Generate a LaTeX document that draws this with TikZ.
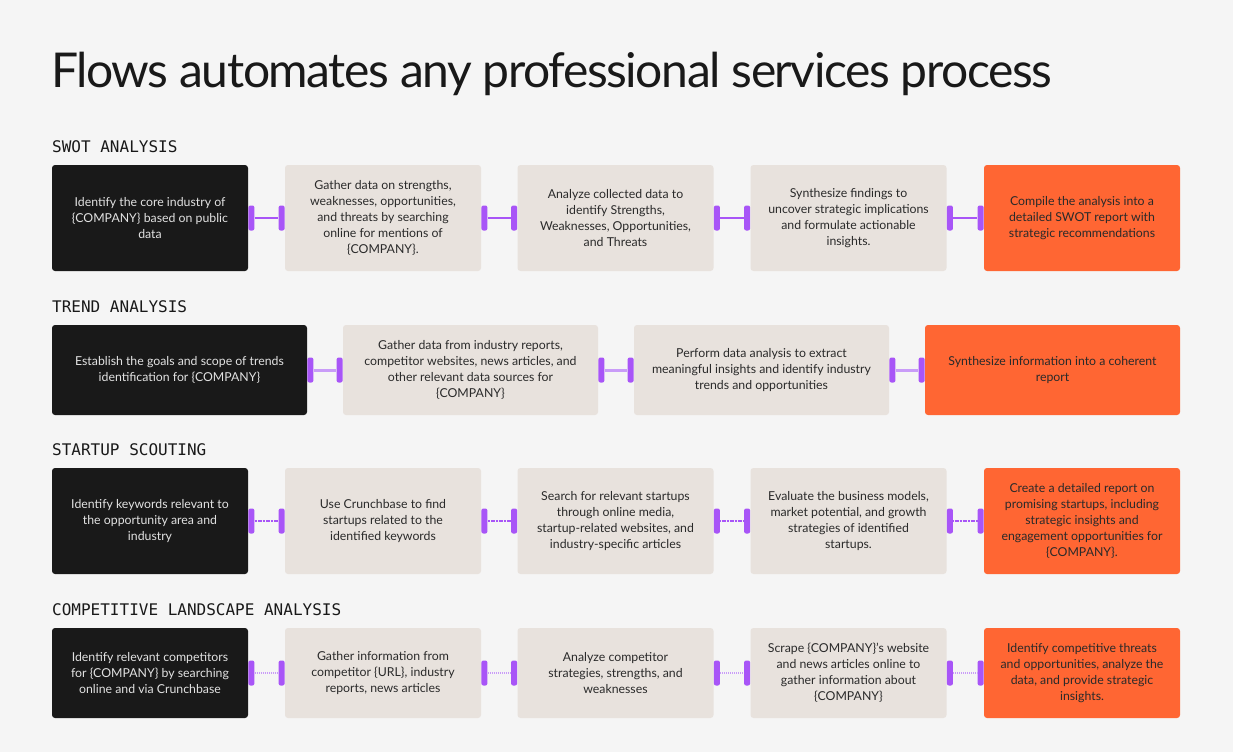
\documentclass[tikz,border=0pt]{standalone}
\usepackage{fontspec}
\setmainfont{Lato}
\newfontfamily\monof{DejaVu Sans Mono}
\newfontfamily\titlef[LetterSpace=-3]{Lato}
\definecolor{bg}{HTML}{F5F5F5}
\definecolor{beige}{HTML}{E8E2DD}
\definecolor{blk}{HTML}{191919}
\definecolor{orng}{HTML}{FF6633}
\definecolor{purp}{HTML}{A855F7}
\definecolor{purpl}{HTML}{C99CF8}
\definecolor{txt}{HTML}{2A2A2A}
\definecolor{ltxt}{HTML}{E2E2E2}
\tikzset{
  box/.style={rounded corners=3pt, inner sep=0pt, align=center, font=\fontsize{12.3}{16}\selectfont},
  boxa/.style={box, minimum width=196pt, minimum height=106pt},
  boxb/.style={box, minimum width=255pt, minimum height=90pt},
  boxc/.style={box, minimum width=196pt, minimum height=90pt},
  darkbox/.style={fill=blk, text=ltxt},
  lightbox/.style={fill=beige, text=txt},
  hotbox/.style={fill=orng, text=txt},
  tab/.style={fill=purp, rounded corners=2pt, minimum width=6pt, minimum height=25pt, inner sep=0pt},
  lnA/.style={draw=purp, line width=1.3pt},
  lnB/.style={draw=purpl, line width=3pt},
  lnC/.style={draw=purp, line width=1.1pt, dash pattern=on 1.2pt off 0.4pt},
  lnD/.style={draw=purpl, line width=1.3pt, dash pattern=on 1pt off 1pt},
  sect/.style={anchor=west, inner sep=0pt, font=\monof\fontsize{16}{16}\selectfont, text=blk},
}
\newcommand\conn[3]{%
  \node[tab,anchor=west] (#1r) at (#1.east) {};
  \node[tab,anchor=east] (#2l) at (#2.west) {};
  \draw[#3] (#1r) -- (#2l);}
\begin{document}
\begin{tikzpicture}[x=1pt,y=-1pt]
\fill[bg] (0,0) rectangle (1233,752);
\useasboundingbox (0,0) rectangle (1233,752);
\node[anchor=base west, inner sep=0pt, text=blk, font=\titlef\fontsize{48}{50}\selectfont] (title) at (51,87) {Flows automates any professional services process};

% SWOT
\node[sect] (h1) at (52,147) {SWOT ANALYSIS};
\node[boxa,darkbox] (a1) at (150,218) {Identify the core industry of\\\{COMPANY\} based on public\\data};
\node[boxa,lightbox] (a2) at (383,218) {Gather data on strengths,\\weaknesses, opportunities,\\and threats by searching\\online for mentions of\\\{COMPANY\}.};
\node[boxa,lightbox] (a3) at (615.5,218) {Analyze collected data to\\identify Strengths,\\Weaknesses, Opportunities,\\and Threats};
\node[boxa,lightbox] (a4) at (848.5,218) {Synthesize findings to\\uncover strategic implications\\and formulate actionable\\insights.};
\node[boxa,hotbox] (a5) at (1082,218) {Compile the analysis into a\\detailed SWOT report with\\strategic recommendations};
\conn{a1}{a2}{lnA}
\conn{a2}{a3}{lnA}
\conn{a3}{a4}{lnA}
\conn{a4}{a5}{lnA}

% TREND
\node[sect] (h2) at (52,307) {TREND ANALYSIS};
\node[boxb,darkbox] (b1) at (179.5,370) {Establish the goals and scope of trends\\identification for \{COMPANY\}};
\node[boxb,lightbox] (b2) at (470.5,370) {Gather data from industry reports,\\competitor websites, news articles, and\\other relevant data sources for\\\{COMPANY\}};
\node[boxb,lightbox] (b3) at (761.5,370) {Perform data analysis to extract\\meaningful insights and identify industry\\trends and opportunities};
\node[boxb,hotbox] (b4) at (1052.5,370) {Synthesize information into a coherent\\report};
\conn{b1}{b2}{lnB}
\conn{b2}{b3}{lnB}
\conn{b3}{b4}{lnB}

% STARTUP
\node[sect] (h3) at (52,450) {STARTUP SCOUTING};
\node[boxa,darkbox] (c1) at (150,521) {Identify keywords relevant to\\the opportunity area and\\industry};
\node[boxa,lightbox] (c2) at (383,521) {Use Crunchbase to find\\startups related to the\\identified keywords};
\node[boxa,lightbox] (c3) at (615.5,521) {Search for relevant startups\\through online media,\\startup-related websites, and\\industry-specific articles};
\node[boxa,lightbox] (c4) at (848.5,521) {Evaluate the business models,\\market potential, and growth\\strategies of identified\\startups.};
\node[boxa,hotbox] (c5) at (1082,521) {Create a detailed report on\\promising startups, including\\strategic insights and\\engagement opportunities for\\\{COMPANY\}.};
\conn{c1}{c2}{lnC}
\conn{c2}{c3}{lnC}
\conn{c3}{c4}{lnC}
\conn{c4}{c5}{lnC}

% COMPETITIVE
\node[sect] (h4) at (52,610) {COMPETITIVE LANDSCAPE ANALYSIS};
\node[boxc,darkbox] (d1) at (150,673) {Identify relevant competitors\\for \{COMPANY\} by searching\\online and via Crunchbase};
\node[boxc,lightbox] (d2) at (383,673) {Gather information from\\competitor \{URL\}, industry\\reports, news articles};
\node[boxc,lightbox] (d3) at (615.5,673) {Analyze competitor\\strategies, strengths, and\\weaknesses};
\node[boxc,lightbox] (d4) at (848.5,673) {Scrape \{COMPANY\}’s website\\and news articles online to\\gather information about\\\{COMPANY\}};
\node[boxc,hotbox] (d5) at (1082,673) {Identify competitive threats\\and opportunities, analyze the\\data, and provide strategic\\insights.};
\conn{d1}{d2}{lnD}
\conn{d2}{d3}{lnD}
\conn{d3}{d4}{lnD}
\conn{d4}{d5}{lnD}
\end{tikzpicture}
\end{document}
